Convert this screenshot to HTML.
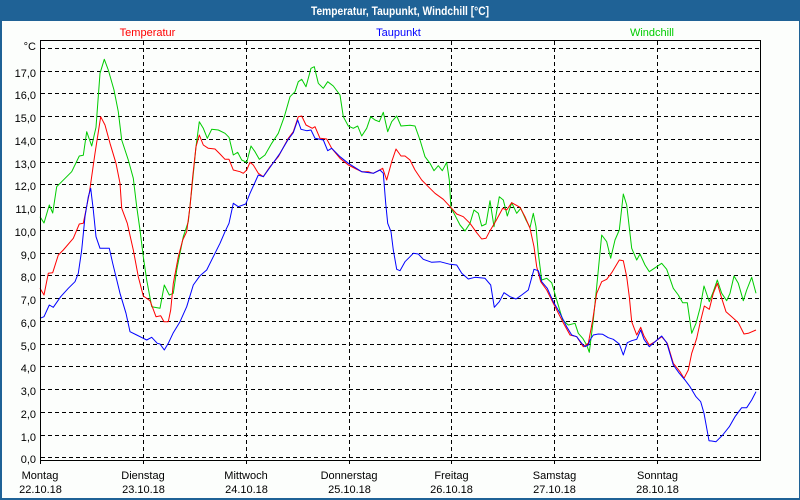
<!DOCTYPE html>
<html>
<head>
<meta charset="utf-8">
<style>
html,body{margin:0;padding:0;background:#1f6296;}
body{width:800px;height:500px;overflow:hidden;}
svg{display:block;}
text{font-family:"Liberation Sans",sans-serif;}
</style>
</head>
<body>
<svg width="800" height="500" viewBox="0 0 800 500" xmlns="http://www.w3.org/2000/svg">
  <rect x="0" y="0" width="800" height="500" fill="#1f6296"/>
  <rect x="2" y="21" width="797" height="477" fill="#fcfefc"/>
  <text x="400" y="15" fill="#ffffff" font-size="12" font-weight="bold" text-anchor="middle" textLength="178" lengthAdjust="spacingAndGlyphs">Temperatur, Taupunkt, Windchill [°C]</text>

  <!-- legend -->
  <text x="147.5" y="36" fill="#ff0000" font-size="11" text-anchor="middle">Temperatur</text>
  <text x="398.5" y="36" fill="#0000ff" font-size="11" text-anchor="middle">Taupunkt</text>
  <text x="652" y="36" fill="#00cc00" font-size="11" text-anchor="middle">Windchill</text>

  <!-- horizontal grid -->
  <g stroke="#000" stroke-width="1" stroke-dasharray="4,3" shape-rendering="crispEdges">
    <line x1="41" x2="760" y1="457.5" y2="457.5"/>
    <line x1="41" x2="760" y1="435.5" y2="435.5"/>
    <line x1="41" x2="760" y1="412.5" y2="412.5"/>
    <line x1="41" x2="760" y1="389.5" y2="389.5"/>
    <line x1="41" x2="760" y1="366.5" y2="366.5"/>
    <line x1="41" x2="760" y1="344.5" y2="344.5"/>
    <line x1="41" x2="760" y1="321.5" y2="321.5"/>
    <line x1="41" x2="760" y1="298.5" y2="298.5"/>
    <line x1="41" x2="760" y1="275.5" y2="275.5"/>
    <line x1="41" x2="760" y1="253.5" y2="253.5"/>
    <line x1="41" x2="760" y1="230.5" y2="230.5"/>
    <line x1="41" x2="760" y1="207.5" y2="207.5"/>
    <line x1="41" x2="760" y1="184.5" y2="184.5"/>
    <line x1="41" x2="760" y1="162.5" y2="162.5"/>
    <line x1="41" x2="760" y1="139.5" y2="139.5"/>
    <line x1="41" x2="760" y1="116.5" y2="116.5"/>
    <line x1="41" x2="760" y1="93.5" y2="93.5"/>
    <line x1="41" x2="760" y1="71.5" y2="71.5"/>
    <line x1="41" x2="760" y1="48.5" y2="48.5"/>
    <!-- vertical grid -->
    <line x1="143.5" x2="143.5" y1="41" y2="460"/>
    <line x1="246.5" x2="246.5" y1="41" y2="460"/>
    <line x1="349.5" x2="349.5" y1="41" y2="460"/>
    <line x1="451.5" x2="451.5" y1="41" y2="460"/>
    <line x1="554.5" x2="554.5" y1="41" y2="460"/>
    <line x1="657.5" x2="657.5" y1="41" y2="460"/>
  </g>
  <!-- ticks -->
  <g stroke="#000" stroke-width="1" shape-rendering="crispEdges">
    <line x1="40.5" x2="40.5" y1="460" y2="464"/>
    <line x1="143.5" x2="143.5" y1="460" y2="464"/>
    <line x1="246.5" x2="246.5" y1="460" y2="464"/>
    <line x1="349.5" x2="349.5" y1="460" y2="464"/>
    <line x1="451.5" x2="451.5" y1="460" y2="464"/>
    <line x1="554.5" x2="554.5" y1="460" y2="464"/>
    <line x1="657.5" x2="657.5" y1="460" y2="464"/>
  </g>

  <!-- series -->
  <g fill="none" stroke-width="1" stroke-linejoin="round">
    <polyline stroke="#00cc00" points="40,216.7 44,223 49.3,205 52.7,213 56.7,186.7 61.7,181.7 71.7,171.7 79.3,156 83.3,155.3 86.7,131.7 91.7,146 96,127.3 100,73.3 104.3,59.3 108.3,70 114,90 118.3,111.7 121.7,140 128.3,160 133.3,178.3 136.7,206.7 140,230 143.3,256.7 146.7,280 151.7,306.7 160,308.3 164.3,285 169.3,295 173.3,293.3 176.7,270 183.3,236.7 188.3,221.7 191.7,190 196,146.7 199.3,121.7 203.3,128.3 207.3,138.3 211.7,129.3 218.3,130 225,133.3 229,137.3 233.3,155 237.7,152.3 241.7,160 246.7,162.3 251,146 255,151.7 259.3,159.3 265,155 271.7,143.3 278.3,133.3 284.3,116.7 290,96.7 295,91.7 298.3,81.7 301.7,79.3 306,86.7 311,68.3 314.3,66.7 318.3,83.3 323.3,88.3 327.7,81.7 333.3,86 340,95 343.3,116.7 348.3,126 353.3,128.3 357.7,126 361.7,136 366.7,128.3 370.7,116.7 375,120 379.3,121.7 383.3,112.3 387.7,131.7 391.7,121.7 396.7,116 401,126 410,125.3 415,126 420,140 425,156.7 430,163.3 434,170.7 438.3,165.7 442.3,170.7 446.7,162.3 449.3,180 451,208.3 454,213.3 460,225 465,231 470,223.3 474,210 478.3,213.3 481.7,226 486,224 490,200.7 494,226.7 499.3,196.7 503.3,200 507.3,216 511.7,202.7 516.7,213.3 520.7,208.3 526,220 530,227.7 533.3,213.3 536,226.7 538.3,253.3 541.7,280 546.7,278.3 551.7,282.7 556.7,300 562.7,320 568.3,325 575,323.3 578.3,333.3 582.7,338.3 586.7,345 589.3,352.3 593.3,320 596.7,286.7 601.7,235 606.7,241.7 610.7,258.3 615,240 619.3,230 623.3,194 626.7,205 631.7,248.3 636.7,260 640,254 645,265 649.3,271.7 656.7,266.7 661.7,263.3 666.7,269.3 673.3,288.3 678.3,295 682.7,302.7 687.3,302.7 691.7,333.3 696,323.3 700,308.3 704,286 709.3,301.7 713.3,291.7 717.3,280 721.7,293.3 726.7,300.7 730,293.3 734,276 738.3,283.3 743.3,300.7 746.7,290 751.7,277.3 756,293.3"/>
    <polyline stroke="#ff0000" points="40,288.3 44,295 48.3,273.3 52.7,272.7 58.3,255 63.3,250 73.3,238.3 79.3,224 83.3,223.3 89.3,193.3 95,153.3 100.7,116.7 105,125 110,143.3 116,163.3 120,183.3 121.7,208.3 127.3,223.3 133.3,250 138.3,276.7 143.3,296 150,300.7 156,316.7 160.7,315.7 164,321.7 168.3,321.7 170.7,310 173.3,283.3 178.3,256.7 182.7,240 186.7,231.7 190,206.7 192.7,176.7 196,146.7 199.3,135 203.3,145 208.3,148.3 215,149 220,154 225,159.3 229,159.3 233.3,170 240,171.7 243.3,173.3 246.7,170 250,162.3 253.3,165 258.3,173.3 263.3,176.7 270,166.7 278.3,156.7 288.3,138.3 293.3,131.7 298.3,116.7 301.7,116 306,125 312.3,128.3 315,126.7 320,138.3 326.7,139 331.7,148.3 340,158.3 348.3,165 356.7,169.3 361.7,171.7 368.3,171.7 373.3,173.3 378.3,170.7 382.7,168.3 386.7,180 391.7,161.7 396,149 401,156 405,156 410,160 415,170 421.7,180 428.3,186.7 435,193.3 443.3,199.3 450.7,207.3 456.7,214 463.3,216.7 470,223.3 476.7,232.7 481.7,239 486,238.3 490,230.7 496,220.7 502.7,208.3 506.7,210 511.7,202.7 520,207.3 525,216.7 530,228.3 534,246.7 536.7,266.7 540.7,281.7 546.7,290 553.3,303.3 562.7,321.7 570,335 576.7,336.7 583.3,346.7 588.3,343.3 592.7,320 596.7,293.3 601.7,281.7 606.7,279.3 611.7,272.7 619.3,260 623.3,260.7 626.7,276.7 629.3,296.7 631.7,321.7 636.7,335 640.7,327.3 644,336 649.3,345 655,341.7 661.7,336.7 667.3,343.3 673.3,363.3 680,371.7 684,378.3 688.3,370 691.7,353.3 696.7,338.3 700,323.3 704.3,306 709.3,309.3 713.3,293.3 717.3,283.3 721.7,298.3 726,311.7 731.7,316.7 738.3,322.7 744,334 748.3,333.3 756,330"/>
    <polyline stroke="#0000ff" points="40,318.3 44,316.7 49.3,305 53.3,307.3 60.7,296.7 68.3,288.3 75,281.7 78.3,273.3 81.7,250 85,216.7 88.3,196.7 90.7,188.3 93.3,210 96,236.7 100,248.3 109.3,248.3 112.7,263.3 120,293.3 126,313.3 130,331.7 136.7,335 143.3,338.3 146.7,340 151.7,337.3 157.3,343.3 160,344 164.3,350 168.3,343.3 173.3,332.7 180,321.7 186.7,306.7 193.3,285 200,275.7 206.7,270 213.3,256.7 220,243.3 225,231.7 229,223.3 233.3,203.3 238.3,206.7 245.7,204 250,193.3 258.3,175 263.3,176.7 271.7,165 280,153.3 288.3,139.3 293.3,132.7 297.7,120 301,129.3 306.7,130.7 311,130 315,138.3 323.3,140 327.7,150.7 331.7,148.3 340,156.7 348.3,163.3 361.7,171.7 373.3,173.3 380,170 383.3,173.3 385.7,203.3 387.7,223.3 391,231.7 393.3,250 396.7,269.3 400,270.7 405,261.7 410,256.7 413.3,253.3 418.3,254 423.3,259.3 431.7,262.3 440,261.7 450,264.3 456.7,265 461.7,273.3 468.3,279 475,277.3 485,278.3 490.7,285 494.3,307.3 499.3,301.7 504,292.7 510,296.7 516,299 521.7,295 528.3,290 534,269.3 538.3,270.7 541.7,281.7 547.3,288.3 553.3,301.7 560,313.3 566.7,326.7 571.7,335 576.7,336.7 581.7,343.3 585,346.7 588.3,345 590,340 593.3,335 598.3,334 602.7,334.3 608.3,337.7 613.3,339.3 619.3,344 623.3,355 627.3,342.7 631.7,340.7 636.7,339.3 640.7,330 644,339.3 649.3,346.7 655,341.7 661.7,336 666.7,342.7 673.3,365 679.3,373.3 685,380 690,386.7 696,396.7 700.7,401.7 704,413.3 709,440.7 711.7,441 716,441.7 722.7,435 729.3,426.7 735,416.7 741.7,407.7 746.7,407.7 751.7,400 756,391.7"/>
  </g>

  <!-- plot frame -->
  <rect x="40.5" y="40.5" width="720" height="420" fill="none" stroke="#000" stroke-width="1" shape-rendering="crispEdges"/>

  <!-- y labels -->
  <g font-size="11" fill="#000" text-anchor="end">
    <text x="36" y="50">°C</text>
    <text x="36" y="77">17,0</text>
    <text x="36" y="99">16,0</text>
    <text x="36" y="122">15,0</text>
    <text x="36" y="145">14,0</text>
    <text x="36" y="168">13,0</text>
    <text x="36" y="190">12,0</text>
    <text x="36" y="213">11,0</text>
    <text x="36" y="236">10,0</text>
    <text x="36" y="259">9,0</text>
    <text x="36" y="281">8,0</text>
    <text x="36" y="304">7,0</text>
    <text x="36" y="327">6,0</text>
    <text x="36" y="350">5,0</text>
    <text x="36" y="372">4,0</text>
    <text x="36" y="395">3,0</text>
    <text x="36" y="418">2,0</text>
    <text x="36" y="441">1,0</text>
    <text x="36" y="463">0,0</text>
  </g>

  <!-- x labels -->
  <g font-size="11" fill="#000" text-anchor="middle">
    <text x="40" y="479">Montag</text>
    <text x="40.5" y="493">22.10.18</text>
    <text x="143" y="479">Dienstag</text>
    <text x="143.5" y="493">23.10.18</text>
    <text x="246" y="479">Mittwoch</text>
    <text x="246.5" y="493">24.10.18</text>
    <text x="349" y="479">Donnerstag</text>
    <text x="349.5" y="493">25.10.18</text>
    <text x="451.5" y="479">Freitag</text>
    <text x="451.5" y="493">26.10.18</text>
    <text x="554.5" y="479">Samstag</text>
    <text x="554.5" y="493">27.10.18</text>
    <text x="657.5" y="479">Sonntag</text>
    <text x="657.5" y="493">28.10.18</text>
  </g>
</svg>
</body>
</html>
